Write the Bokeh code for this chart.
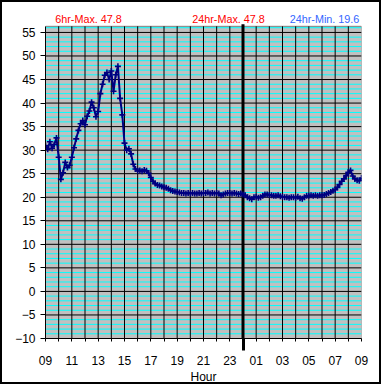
import numpy as np
from bokeh.plotting import figure
from bokeh.models import Range1d, FixedTicker, LinearAxis, Label
from bokeh.embed import file_html
from bokeh.resources import INLINE

# Temperature readings, one every 10 minutes from 09:00 to 09:00 next day
temps = [
    31.0, 30.2, 31.8, 30.4, 31.2, 32.6,   # 09
    28.5, 23.8, 25.2, 27.4, 26.3, 26.8,   # 10
    28.5, 30.5, 32.4, 34.2, 35.6, 36.3,   # 11
    35.4, 37.2, 38.3, 40.2, 39.0, 37.1,   # 12
    38.2, 42.0, 44.0, 45.9, 46.5, 45.0,   # 13
    46.8, 42.5, 46.0, 47.8, 41.0, 37.5,   # 14
    31.5, 30.0, 30.3, 29.2, 27.0, 26.0,   # 15
    25.6, 25.7, 25.5, 25.8, 25.6, 25.1,   # 16
    24.2, 23.4, 22.9, 22.6, 22.5, 22.3,   # 17
    22.1, 22.0, 21.8, 21.5, 21.3, 21.2,   # 18
    21.1, 21.0, 20.9, 20.9, 20.8, 20.9,   # 19
    20.8, 20.9, 20.8, 20.8, 20.9, 20.8,   # 20
    20.9, 20.9, 21.0, 20.8, 20.9, 20.8,   # 21
    20.9, 20.8, 20.4, 20.6, 20.8, 20.9,   # 22
    20.9, 20.8, 20.9, 20.8, 20.7, 20.8,   # 23
    20.6, 20.4, 20.0, 19.8, 19.6, 20.0,   # 00
    20.1, 19.9, 20.0, 20.3, 20.6, 20.6,   # 01
    20.5, 20.4, 20.3, 20.3, 20.4, 20.2,   # 02
    20.1, 20.0, 20.0, 19.9, 20.0, 20.0,   # 03
    19.9, 20.1, 19.8, 19.7, 20.0, 20.3,   # 04
    20.3, 20.4, 20.3, 20.4, 20.3, 20.4,   # 05
    20.4, 20.5, 20.7, 20.9, 21.1, 21.4,   # 06
    21.6, 22.1, 22.7, 23.4, 23.9, 24.6,   # 07
    25.3, 25.7, 24.5, 23.9, 23.6, 23.5,   # 08
    24.1,                                 # 09
]
hours_since_start = np.arange(len(temps)) / 6.0

hour_ticks = list(range(25))
hour_labels = ["%02d" % ((9 + h) % 24) if h % 2 == 0 else "" for h in hour_ticks]
midnight = 15

y_major = list(range(-10, 60, 5))
y_minor = [v for v in range(-10, 57) if v % 5 != 0]

title_texts = ["6hr-Max. 47.8", "24hr-Max. 47.8", "24hr-Min. 19.6"]
title_colors = ["#FF0000", "#FF0000", "#3366FF"]
title_x = [3.27, 13.9, 21.19]

X0, X1 = 0, 24          # plot-area extent (hours)
Y0, Y1 = -10, 56.3      # plot-area extent (temperature)
Y_TOP = 60.934          # frame extends above the plot area to hold the header texts

FONT = "Liberation Sans"
NAVY = "#000080"

p = figure(width=381, height=384, output_backend="svg", toolbar_location=None,
           x_range=Range1d(X0, X1), y_range=Range1d(Y0, Y_TOP),
           min_border_left=43, min_border_right=22, min_border_top=2,
           min_border_bottom=44, x_axis_type=None, y_axis_type=None)
p.background_fill_color = "white"
p.border_fill_color = "white"
p.outline_line_color = None
p.styles = {"border": "2px solid black"}

# plot area background
p.quad(left=[X0], right=[X1], bottom=[Y0], top=[Y1], fill_color="#C0C0C0",
       line_color="#808080", line_width=1)

# minor horizontal lines (cyan)
p.segment(x0=[X0] * len(y_minor), x1=[X1] * len(y_minor), y0=y_minor, y1=y_minor,
          line_color="#00FFFF", line_width=1.0)
# major horizontal lines (black)
p.segment(x0=[X0] * len(y_major), x1=[X1] * len(y_major), y0=y_major, y1=y_major,
          line_color="black", line_width=1.0)
# hourly vertical lines (black)
vx = hour_ticks[1:-1]
p.segment(x0=vx, x1=vx, y0=[Y0] * len(vx), y1=[Y1] * len(vx),
          line_color="black", line_width=1.0)
# midnight marker
p.segment(x0=[midnight], x1=[midnight], y0=[Y0], y1=[Y1 + 0.45],
          line_color="black", line_width=3)

xaxis = LinearAxis(ticker=FixedTicker(ticks=hour_ticks, minor_ticks=[midnight]),
                   bounds=(X0, X1))
xaxis.major_label_overrides = {h: lab for h, lab in zip(hour_ticks, hour_labels)}
xaxis.major_tick_out = 3
xaxis.major_tick_in = 0
xaxis.major_tick_line_color = "black"
xaxis.minor_tick_out = 12
xaxis.minor_tick_in = 0
xaxis.minor_tick_line_width = 3
xaxis.minor_tick_line_color = "black"
xaxis.major_label_standoff = 5
xaxis.axis_label = "Hour"
xaxis.axis_label_standoff = 2
xaxis.axis_label_text_font_style = "normal"
xaxis.axis_label_text_font = FONT
xaxis.axis_label_text_font_size = "12px"
xaxis.axis_label_text_color = "black"
xaxis.major_label_text_font = FONT
xaxis.major_label_text_font_size = "12px"
xaxis.major_label_text_color = "black"
xaxis.axis_line_color = "black"
p.add_layout(xaxis, "below")

yaxis = LinearAxis(ticker=FixedTicker(ticks=y_major, minor_ticks=[]), bounds=(Y0, Y1))
yaxis.major_tick_out = 5
yaxis.major_tick_in = 0
yaxis.major_tick_line_color = "black"
yaxis.minor_tick_out = 0
yaxis.minor_tick_in = 0
yaxis.major_label_standoff = 5
yaxis.major_label_text_font = FONT
yaxis.major_label_text_font_size = "12px"
yaxis.major_label_text_color = "black"
yaxis.axis_line_color = "black"
p.add_layout(yaxis, "left")

p.line(hours_since_start, temps, line_color=NAVY, line_width=2)
p.scatter(hours_since_start, temps, marker="cross", size=6, line_color=NAVY,
          line_width=1.6)

for txt, col, xx in zip(title_texts, title_colors, title_x):
    p.add_layout(Label(x=xx, y=57.93, text=txt, text_color=col, text_font=FONT,
                       text_font_size="10.8px", text_align="center",
                       text_baseline="alphabetic"))

open("out.html", "w").write(file_html(p, INLINE))
